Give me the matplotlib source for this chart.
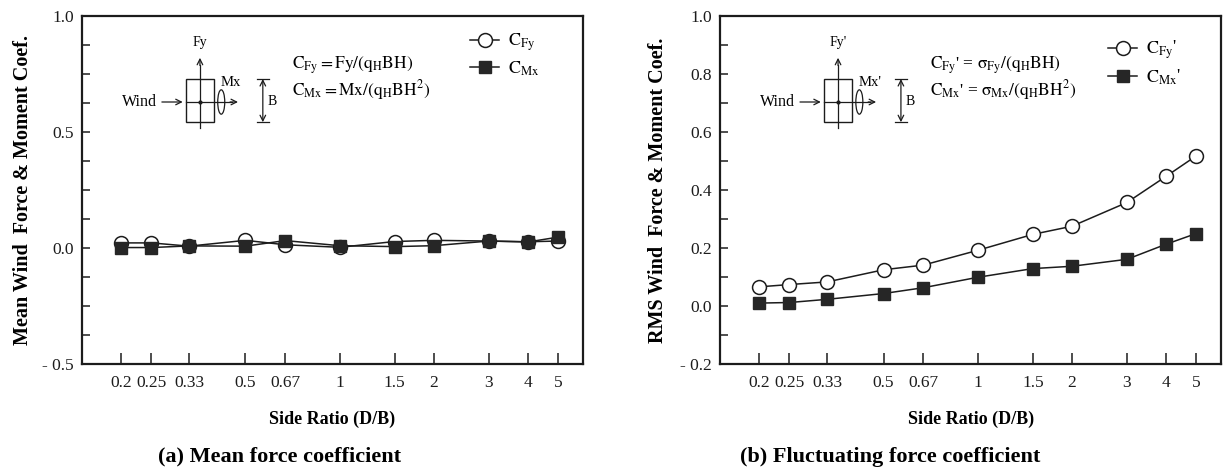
import matplotlib
matplotlib.use('Agg')
import matplotlib.pyplot as plt
from matplotlib.patches import Rectangle, Ellipse
from matplotlib.ticker import FixedLocator, NullLocator, MultipleLocator, FuncFormatter

plt.rcParams['font.family'] = 'serif'
plt.rcParams['font.serif'] = ['Liberation Serif', 'DejaVu Serif']
plt.rcParams['mathtext.fontset'] = 'stix'

side_ratio = [0.2, 0.25, 0.33, 0.5, 0.67, 1, 1.5, 2, 3, 4, 5]
tick_labels = ['0.2', '0.25', '0.33', '0.5', '0.67', '1', '1.5', '2', '3', '4', '5']

# mean coefficients
mean_cfy = [0.022, 0.022, 0.008, 0.033, 0.014, 0.003, 0.028, 0.033, 0.030, 0.027, 0.030]
mean_cmx = [0.002, 0.002, 0.009, 0.008, 0.032, 0.010, 0.006, 0.010, 0.030, 0.026, 0.047]

# fluctuating (rms) coefficients
rms_cfy = [0.066, 0.074, 0.083, 0.125, 0.141, 0.192, 0.247, 0.275, 0.357, 0.447, 0.518]
rms_cmx = [0.010, 0.012, 0.023, 0.043, 0.063, 0.099, 0.129, 0.137, 0.161, 0.213, 0.250]

INK = '#1c1c1c'


def neg_fmt(v, pos):
    if v < -1e-9:
        return '- %.1f' % abs(v)
    return '%.1f' % abs(v)


def setup_axes(ax, ylim, major, minor):
    ax.set_xscale('log')
    ax.set_xlim(0.15, 6.0)
    ax.set_ylim(*ylim)
    ax.xaxis.set_major_locator(FixedLocator(side_ratio))
    ax.xaxis.set_minor_locator(NullLocator())
    ax.set_xticklabels(tick_labels)
    ax.yaxis.set_major_locator(MultipleLocator(major))
    ax.yaxis.set_minor_locator(MultipleLocator(minor))
    ax.yaxis.set_major_formatter(FuncFormatter(neg_fmt))
    ax.tick_params(axis='both', which='both', direction='in', colors=INK,
                   labelsize=12.5, top=False, right=False)
    ax.tick_params(axis='y', which='both', length=6, width=1.1, pad=6)
    ax.tick_params(axis='x', which='major', length=8, width=1.1, pad=8)
    for s in ax.spines.values():
        s.set_linewidth(1.6)
        s.set_color(INK)
    ax.set_xlabel('Side Ratio (D/B)', fontsize=13, fontweight='bold')
    ax.xaxis.set_label_coords(0.5, -0.135)


def draw_sketch(ax, prime):
    p = "'" if prime else ''
    tr = ax.transAxes
    kw = dict(transform=tr, color=INK, lw=0.9, clip_on=False)
    # body section
    ax.add_patch(Rectangle((0.2076, 0.695), 0.056, 0.124, fill=False, ec=INK, lw=1.0,
                           transform=tr, clip_on=False))
    cx, cy = 0.2355, 0.753
    ax.plot([cx, cx], [0.678, 0.86], **kw)
    ax.annotate('', xy=(cx, 0.888), xytext=(cx, 0.85), xycoords=tr, textcoords=tr,
                arrowprops=dict(arrowstyle='->', lw=0.9, color=INK))
    ax.text(cx, 0.905, 'Fy' + p, transform=tr, ha='center', va='bottom', fontsize=10)
    ax.plot([0.2076, 0.30], [cy, cy], **kw)
    ax.annotate('', xy=(0.317, cy), xytext=(0.29, cy), xycoords=tr, textcoords=tr,
                arrowprops=dict(arrowstyle='->', lw=0.9, color=INK))
    ax.plot([cx], [cy], marker='o', ms=2, color=INK, transform=tr, clip_on=False)
    # wind
    ax.text(0.150, cy, 'Wind', transform=tr, ha='right', va='center', fontsize=11.5)
    ax.annotate('', xy=(0.2066, cy), xytext=(0.154, cy), xycoords=tr, textcoords=tr,
                arrowprops=dict(arrowstyle='->', lw=0.9, color=INK))
    # moment
    ax.add_patch(Ellipse((0.278, cy), 0.014, 0.07, fill=False, ec=INK, lw=0.9,
                         transform=tr, clip_on=False))
    ax.text(0.277, 0.79, 'Mx' + p, transform=tr, ha='left', va='bottom', fontsize=10.5)
    # dimension B
    bx = 0.361
    ax.annotate('', xy=(bx, 0.819), xytext=(bx, 0.695), xycoords=tr, textcoords=tr,
                arrowprops=dict(arrowstyle='<->', lw=0.9, color=INK, shrinkA=0, shrinkB=0))
    ax.plot([bx - 0.012, bx + 0.012], [0.819, 0.819], **kw)
    ax.plot([bx - 0.012, bx + 0.012], [0.695, 0.695], **kw)
    ax.text(bx + 0.010, cy, 'B', transform=tr, ha='left', va='center', fontsize=10)
    # definitions
    if prime:
        f1 = r"$\mathrm{C_{Fy}}$' = $\mathrm{\sigma_{Fy}/(q_H BH)}$"
        f2 = r"$\mathrm{C_{Mx}}$' = $\mathrm{\sigma_{Mx}/(q_H BH^2)}$"
    else:
        f1 = r"$\mathrm{C_{Fy} = Fy/(q_H BH)}$"
        f2 = r"$\mathrm{C_{Mx} = Mx/(q_H BH^2)}$"
    ax.text(0.419, 0.859, f1, transform=tr, ha='left', va='center', fontsize=12.5)
    ax.text(0.419, 0.787, f2, transform=tr, ha='left', va='center', fontsize=12.5)


def plot_series(ax, cfy, cmx, prime, leg_y):
    p = "'" if prime else ''
    l1, = ax.plot(side_ratio, cfy, '-', color=INK, lw=1.1, marker='o', ms=10,
                  mfc='white', mec=INK, mew=1.1, zorder=3)
    l2, = ax.plot(side_ratio, cmx, '-', color=INK, lw=1.1, marker='s', ms=9,
                  mfc='#262626', mec='#262626', zorder=4)
    ax.legend([l1, l2], [r'$\mathrm{C_{Fy}}$' + p, r'$\mathrm{C_{Mx}}$' + p],
              loc='upper left', bbox_to_anchor=(0.775, leg_y), frameon=False,
              fontsize=13, handlelength=1.6, handletextpad=0.5, labelspacing=0.35,
              borderpad=0, borderaxespad=0)


fig = plt.figure(figsize=(12.25, 4.67), dpi=100)
ax1 = fig.add_axes([0.0669, 0.2206, 0.409, 0.745])
ax2 = fig.add_axes([0.5878, 0.2206, 0.409, 0.745])

setup_axes(ax1, (-0.5, 1.0), 0.5, 0.125)
setup_axes(ax2, (-0.2, 1.0), 0.2, 0.1)

plot_series(ax1, mean_cfy, mean_cmx, False, 0.955)
plot_series(ax2, rms_cfy, rms_cmx, True, 0.935)

draw_sketch(ax1, False)
draw_sketch(ax2, True)

ax1.set_ylabel('Mean Wind  Force & Moment Coef.', fontsize=14.5, fontweight='bold')
ax1.yaxis.set_label_coords(-0.098, 0.5)
ax2.set_ylabel('RMS Wind  Force & Moment Coef.', fontsize=14.5, fontweight='bold')
ax2.yaxis.set_label_coords(-0.104, 0.5)

fig.text(0.228, 0.022, '(a) Mean force coefficient', ha='center', va='center',
         fontsize=16, fontweight='bold')
fig.text(0.727, 0.022, '(b) Fluctuating force coefficient', ha='center', va='center',
         fontsize=16, fontweight='bold')

fig.savefig('out.png', dpi=100, facecolor='white')
